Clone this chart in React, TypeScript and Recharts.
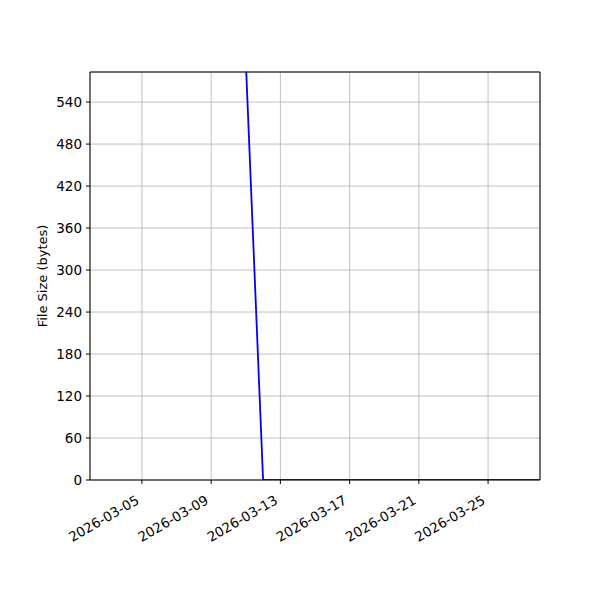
import { CartesianGrid, Line, LineChart, ReferenceArea, XAxis, YAxis } from "recharts";

const dates = [
  "2026-03-11", "2026-03-12", "2026-03-13", "2026-03-14", "2026-03-15", "2026-03-16",
  "2026-03-17", "2026-03-18", "2026-03-19", "2026-03-20", "2026-03-21", "2026-03-22",
  "2026-03-23", "2026-03-24", "2026-03-25", "2026-03-26", "2026-03-27", "2026-03-28",
];
const sizes = [600, 0, 0, 0, 0, 0, 0, 0, 0, 0, 0, 0, 0, 0, 0, 0, 0, 0];

const xTickDates = ["2026-03-05", "2026-03-09", "2026-03-13", "2026-03-17", "2026-03-21", "2026-03-25"];
const yTicks = [0, 60, 120, 180, 240, 300, 360, 420, 480, 540];
const xStart = "2026-03-02";
const xEnd = "2026-03-28";
const yMax = 583;

const toTime = (d: string) => Date.parse(d + "T00:00:00Z");
const fmt = (t: number) => new Date(t).toISOString().slice(0, 10);

const data = dates.map((d, i) => ({ t: toTime(d), size: sizes[i] }));
const font = "'DejaVu Sans', sans-serif";

function DateTick(props: any) {
  const { x, y, payload } = props;
  return (
    <g transform={`translate(${x - 7},${y + 7})`}>
      <text
        textAnchor="end"
        dominantBaseline="hanging"
        transform="rotate(-30)"
        fontSize={13.5}
        fontFamily={font}
        fill="#000"
      >
        {fmt(payload.value)}
      </text>
    </g>
  );
}

export default function App() {
  return (
    <div style={{ position: "absolute", left: 0, top: 0, width: 600, height: 600, background: "#fff" }}>
      <LineChart width={600} height={600} data={data} margin={{ top: 72, right: 60, bottom: 70, left: 30 }}>
        <CartesianGrid stroke="#b0b0b0" strokeWidth={0.8} />
        <ReferenceArea
          x1={toTime(xStart)}
          x2={toTime(xEnd)}
          y1={0}
          y2={yMax}
          fill="none"
          stroke="#000"
          strokeWidth={1}
          ifOverflow="visible"
          zIndex={50}
        />
        <XAxis
          dataKey="t"
          type="number"
          scale="time"
          domain={[toTime(xStart), toTime(xEnd)]}
          ticks={xTickDates.map(toTime)}
          interval={0}
          tick={<DateTick />}
          tickSize={4}
          tickMargin={3}
          height={50}
          stroke="#000"
          axisLine={false}
          allowDataOverflow
        />
        <YAxis
          type="number"
          domain={[0, yMax]}
          ticks={yTicks}
          interval={0}
          allowDataOverflow
          width={60}
          tickSize={4}
          tickMargin={4}
          stroke="#000"
          axisLine={false}
          tick={{ fill: "#000", fontSize: 13.5, fontFamily: font }}
          label={{
            value: "File Size (bytes)",
            angle: -90,
            position: "insideLeft",
            offset: 12,
            style: { textAnchor: "middle", fontSize: 13, fontFamily: font, fill: "#000" },
          }}
        />
        <Line
          dataKey="size"
          stroke="#0000ff"
          strokeWidth={1.8}
          dot={false}
          type="linear"
          isAnimationActive={false}
          zIndex={1000}
        />
      </LineChart>
    </div>
  );
}
